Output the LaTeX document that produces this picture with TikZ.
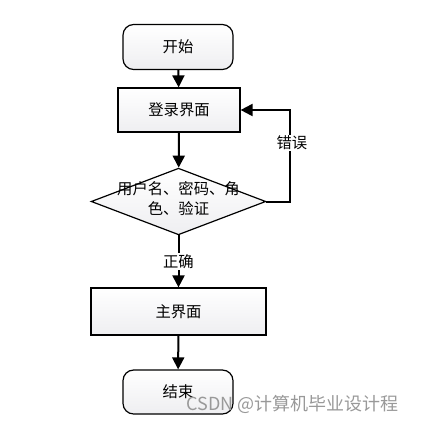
\documentclass[tikz,border=0pt]{standalone}
\usepackage{fontspec}
\newfontfamily\cjk{Noto Sans CJK SC}
\usetikzlibrary{shapes.geometric,arrows.meta}
\begin{document}
\begin{tikzpicture}[x=0.75pt,y=-0.75pt,
  box/.style={draw,line width=0.9pt,top color=white,bottom color=blue!8!gray!12,font=\cjk\fontsize{11.5}{14}\selectfont,inner sep=0pt},
  arr/.style={line width=1.5pt,-{Triangle[length=9pt,width=9pt]}},
  lbl/.style={fill=white,font=\cjk\fontsize{11.5}{14}\selectfont,inner sep=1pt}]
\useasboundingbox (0,0) rectangle (433,422);
\node[box,rounded corners=8pt,minimum width=82.5pt,minimum height=33.75pt] (start) at (178,47) {开始};
\node[box,minimum width=91.5pt,minimum height=33pt] (login) at (179,110) {登录界面};
\node[box,diamond,aspect=2.6,minimum width=131pt,minimum height=50pt,align=center] (check) at (178.5,201.5) {};
\node[font=\cjk\fontsize{11.5}{15}\selectfont,align=center] (checkt) at (178.5,199) {用户名、密码、角\\色、验证};
\node[box,minimum width=131.25pt,minimum height=35.25pt] (main) at (178.5,311.5) {主界面};
\node[box,rounded corners=8pt,minimum width=82.5pt,minimum height=33pt] (end) at (178,392) {结束};
\draw[arr] (start) -- (login);
\draw[arr] (login) -- (check);
\draw[arr] (check) -- (main) node[lbl,pos=0.5] (ok) {正确};
\draw[arr] (main) -- (end);
\coordinate (c1) at (290,201.5);
\coordinate (c2) at (290,110);
\draw[arr] (check.east) -- (c1) -- (c2) -- (login.east);
\node[lbl] (err) at (292,143) {错误};
\node[font=\cjk\fontsize{13.5}{16}\selectfont,text=gray!80,anchor=west,inner sep=0pt] (wm) at (186,404) {CSDN @计算机毕业设计程};
\end{tikzpicture}
\end{document}
